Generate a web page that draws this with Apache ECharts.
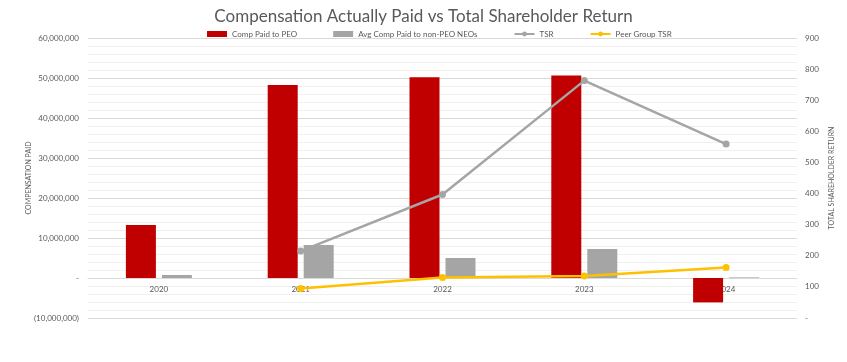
<!DOCTYPE html>
<html>
<head>
<meta charset="utf-8">
<script src="https://cdn.jsdelivr.net/npm/echarts@6/dist/echarts.min.js"></script>
<style>html,body{margin:0;padding:0;background:#fff}#c{width:847px;height:362px}</style>
</head>
<body>
<div id="c"></div>
<script>
const years = ['2020', '2021', '2022', '2023', '2024'];
const compPEO = [13250000, 48250000, 50200000, 50600000, -6100000];
const compNEO = [750000, 8250000, 5000000, 7250000, 150000];
const tsr = [null, 215, 397, 763, 559];
const peerTSR = [null, 95, 130, 135, 162];

const txt = '#595959';
const font = 'Lato';
function fmtLeft(v) {
  if (v === 0) return '-';
  const s = Math.abs(v).toLocaleString('en-US');
  return v < 0 ? '(' + s + ')' : s;
}
const chart = echarts.init(document.getElementById('c'));
chart.setOption({
  animation: false,
  textStyle: { fontFamily: font },
  title: {
    text: 'Compensation Actually Paid vs Total Shareholder Return',
    left: 'center', top: 3,
    textStyle: { fontFamily: font, fontSize: 17, fontWeight: 'normal', color: txt }
  },
  legend: {
    left: 202, top: 25,
    itemWidth: 20, itemHeight: 6, itemGap: 36,
    textStyle: { fontFamily: font, fontSize: 8, color: txt },
    data: [
      { name: 'Comp Paid to PEO', icon: 'rect' },
      { name: 'Avg Comp Paid to non-PEO NEOs', icon: 'rect' },
      { name: 'TSR' },
      { name: 'Peer Group TSR' }
    ]
  },
  grid: { left: 88, right: 50, top: 38, bottom: 44 },
  xAxis: {
    type: 'category', data: years,
    offset: -40,
    axisLine: { onZero: false, lineStyle: { color: '#d9d9d9' } },
    axisTick: { show: false },
    axisLabel: { color: txt, fontSize: 8, margin: 7 },
    splitLine: { show: false }
  },
  yAxis: [
    {
      type: 'value', min: -10000000, max: 60000000, interval: 10000000,
      name: 'COMPENSATION PAID', nameLocation: 'middle', nameGap: 56,
      nameMoveOverlap: false,
      nameTextStyle: { color: txt, fontSize: 7 },
      axisLine: { show: false }, axisTick: { show: false },
      axisLabel: { color: txt, fontSize: 8, margin: 9, formatter: fmtLeft },
      splitLine: { show: true, lineStyle: { color: '#d9d9d9', width: 1 } },
      minorTick: { show: false, splitNumber: 5 },
      minorSplitLine: { show: true, lineStyle: { color: '#f0f0f0', width: 1 } }
    },
    {
      type: 'value', min: 0, max: 900, interval: 100,
      name: 'TOTAL SHAREHOLDER RETURN', nameLocation: 'middle', nameGap: 31,
      nameMoveOverlap: false,
      nameRotate: 90,
      nameTextStyle: { color: txt, fontSize: 7 },
      axisLine: { show: false }, axisTick: { show: false },
      axisLabel: { color: txt, fontSize: 8, margin: 8, formatter: v => v === 0 ? '-' : String(v) },
      splitLine: { show: false }
    }
  ],
  series: [
    { name: 'Comp Paid to PEO', type: 'bar', data: compPEO, barWidth: 30, barGap: '20%',
      itemStyle: { color: '#C00000' } },
    { name: 'Avg Comp Paid to non-PEO NEOs', type: 'bar', data: compNEO, barWidth: 30,
      itemStyle: { color: '#A5A5A5' } },
    { name: 'TSR', type: 'line', yAxisIndex: 1, data: tsr, symbol: 'circle', symbolSize: 7,
      lineStyle: { color: '#A5A5A5', width: 2.5 }, itemStyle: { color: '#A5A5A5' } },
    { name: 'Peer Group TSR', type: 'line', yAxisIndex: 1, data: peerTSR, symbol: 'circle', symbolSize: 7,
      lineStyle: { color: '#FFC000', width: 2.5 }, itemStyle: { color: '#FFC000' } }
  ]
});
</script>
</body>
</html>
